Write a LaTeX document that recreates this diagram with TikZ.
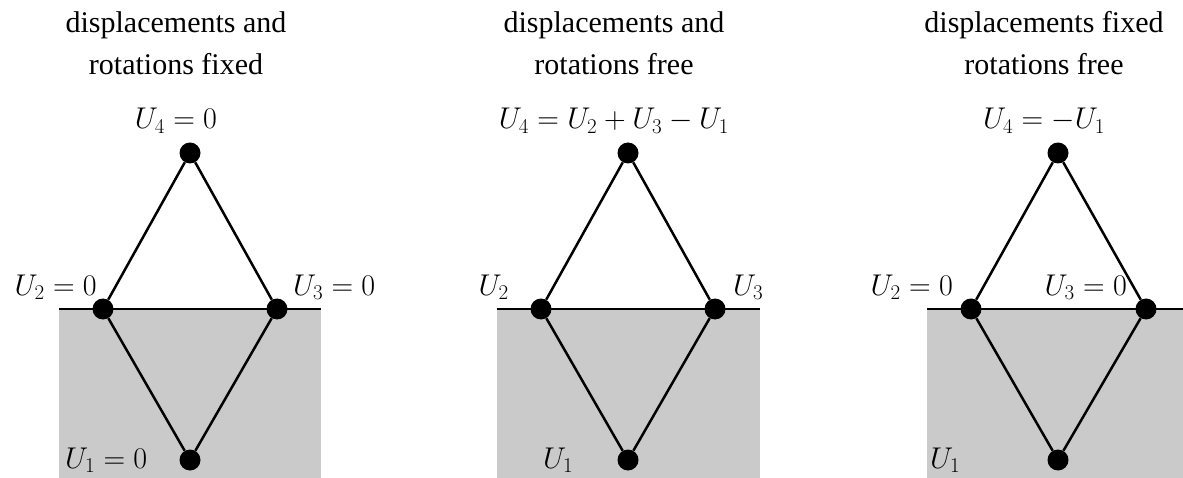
\RequirePackage{fix-cm}
\documentclass[tikz,border=0pt]{standalone}
\usepackage{fontspec}
\setmainfont{Liberation Serif}
\definecolor{ground}{RGB}{202,202,202}
\tikzset{
  dotnode/.style={circle,fill=black,minimum size=21pt,inner sep=0pt},
  member/.style={line width=2.5pt},
  lbl/.style={inner sep=0pt,font=\fontsize{30}{36}\selectfont},
  ttl/.style={inner sep=0pt,anchor=base,font=\fontsize{30}{36}\selectfont},
  surface/.style={line width=2.5pt},
}
\begin{document}
\begin{tikzpicture}[x=1pt,y=-1pt]
\useasboundingbox (0,0) rectangle (1183,478);
% grounds
\fill[ground] (59,309) rectangle (321,478);
\fill[ground] (497,309) rectangle (760,478);
\fill[ground] (927,309) rectangle (1183,478);
\coordinate (gl1) at (59,309); \coordinate (gr1) at (321,309);
\coordinate (gl2) at (497,309); \coordinate (gr2) at (760,309);
\coordinate (gl3) at (927,309); \coordinate (gr3) at (1183,309);
\draw[surface] (gl1) -- (gr1);
\draw[surface] (gl2) -- (gr2);
\draw[surface] (gl3) -- (gr3);
% panel 1
\node[dotnode] (a4) at (190,153) {};
\node[dotnode] (a2) at (103,309) {};
\node[dotnode] (a3) at (277,309) {};
\node[dotnode] (a1) at (190,460) {};
\draw[member] (a2) -- (a4) -- (a3);
\draw[member] (a2) -- (a1) -- (a3);
\node[ttl] (t1a) at (176,33) {displacements and};
\node[ttl] (t1b) at (176,75) {rotations fixed};
\node[lbl,anchor=base] (l14) at (176,129) {$U_4=0$};
\node[lbl,anchor=base east] (l12) at (97,295) {$U_2=0$};
\node[lbl,anchor=base west] (l13) at (293,295) {$U_3=0$};
\node[lbl,anchor=base west] (l11) at (65,468) {$U_1=0$};
% panel 2
\node[dotnode] (b4) at (628,153) {};
\node[dotnode] (b2) at (541,309) {};
\node[dotnode] (b3) at (715,309) {};
\node[dotnode] (b1) at (628,460) {};
\draw[member] (b2) -- (b4) -- (b3);
\draw[member] (b2) -- (b1) -- (b3);
\node[ttl] (t2a) at (614,33) {displacements and};
\node[ttl] (t2b) at (614,75) {rotations free};
\node[lbl,anchor=base] (l24) at (614,129) {$U_4=U_2+U_3-U_1$};
\node[lbl,anchor=base east] (l22) at (509,295) {$U_2$};
\node[lbl,anchor=base west] (l23) at (733,295) {$U_3$};
\node[lbl,anchor=base west] (l21) at (543,468) {$U_1$};
% panel 3
\node[dotnode] (c4) at (1058,153) {};
\node[dotnode] (c2) at (971,309) {};
\node[dotnode] (c3) at (1146,309) {};
\node[dotnode] (c1) at (1058,460) {};
\draw[member] (c2) -- (c4) -- (c3);
\draw[member] (c2) -- (c1) -- (c3);
\node[ttl] (t3a) at (1044,33) {displacements fixed};
\node[ttl] (t3b) at (1044,75) {rotations free};
\node[lbl,anchor=base] (l34) at (1044,129) {$U_4=-U_1$};
\node[lbl,anchor=base east] (l32) at (953,295) {$U_2=0$};
\node[lbl,anchor=base east] (l33) at (1127,295) {$U_3=0$};
\node[lbl,anchor=base west] (l31) at (930,468) {$U_1$};
\end{tikzpicture}
\end{document}
